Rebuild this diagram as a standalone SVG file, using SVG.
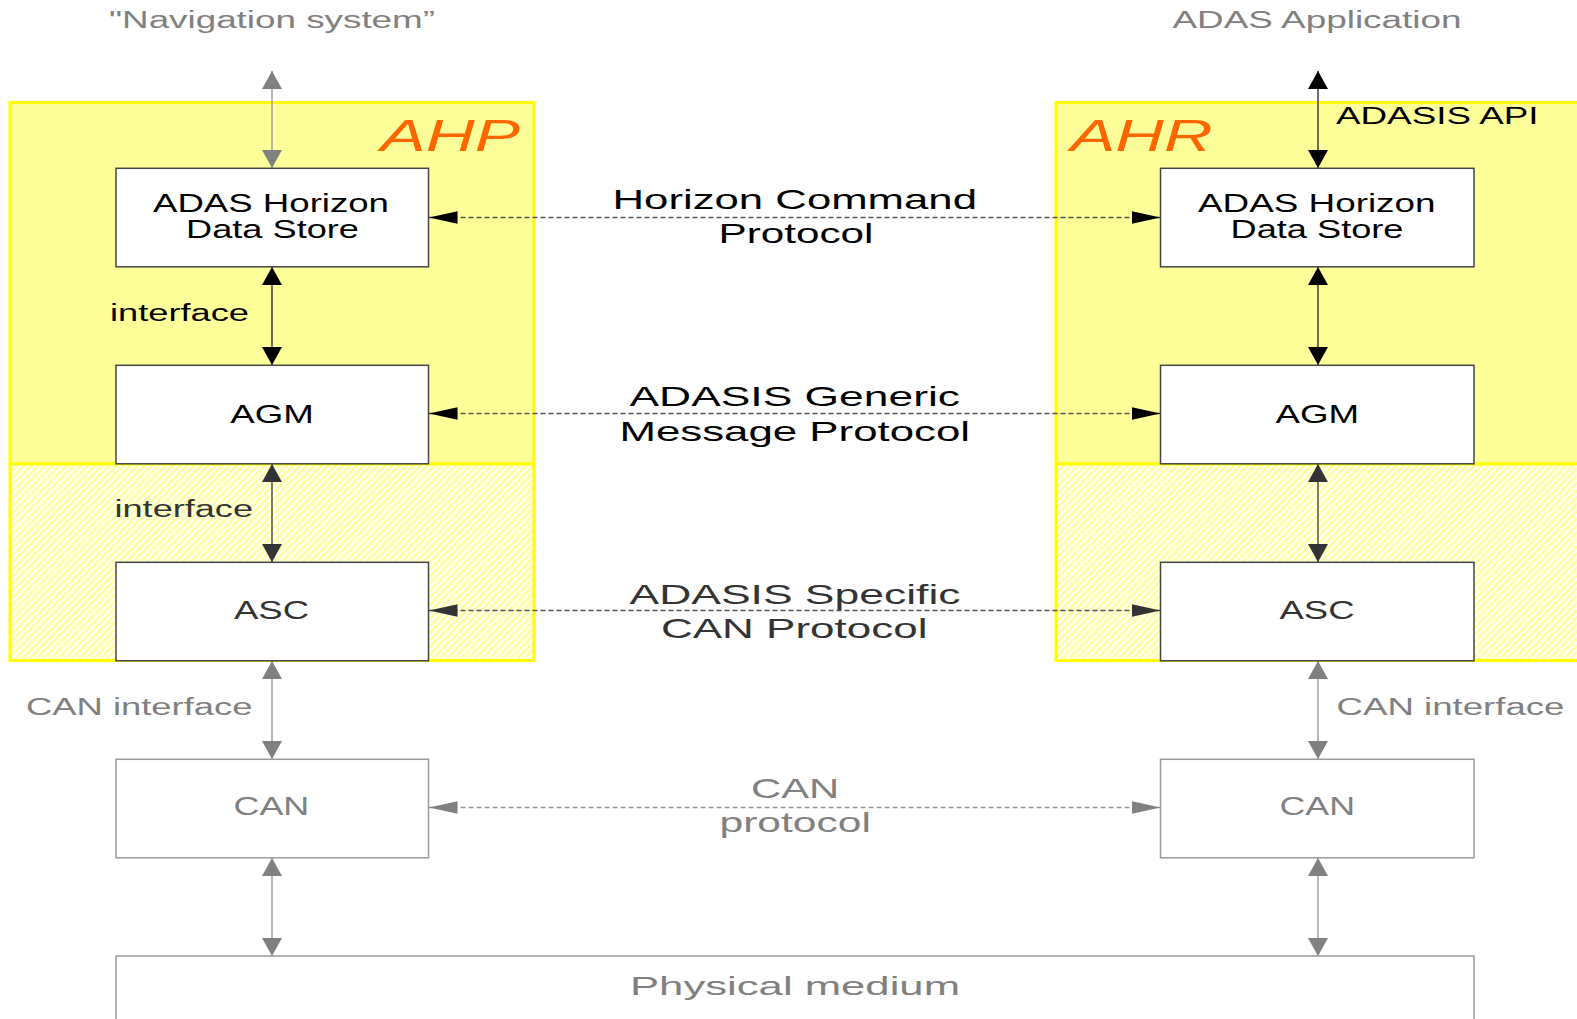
<svg xmlns="http://www.w3.org/2000/svg" width="1577" height="1019" viewBox="0 0 1577 1019">
  <defs>
    <style>
      text { font-family: "Liberation Sans", Arial, sans-serif; }
      .blk { fill: #000000; }
      .drk { fill: #333333; }
      .gry { fill: #808080; }
      .lbl { font-size: 25.5px; }
      .proto { font-size: 28px; }
      .side { font-size: 23.5px; }
      .title { font-size: 44px; font-style: italic; fill: #ff6600; }
      .frame { fill: #ffff99; stroke: #ffff00; stroke-width: 3; }
      .hatch { fill: url(#hatch); stroke: #ffff00; stroke-width: 3; }
      .box { fill: #ffffff; stroke: #444444; stroke-width: 1.5; }
      .gbox { fill: #ffffff; stroke: #9a9a9a; stroke-width: 1.5; }
      .vk { stroke: #333333; stroke-width: 1.4; fill: none; marker-start: url(#vK); marker-end: url(#vK); }
      .vd { stroke: #444444; stroke-width: 1.4; fill: none; marker-start: url(#vD); marker-end: url(#vD); }
      .vg { stroke: #999999; stroke-width: 1.4; fill: none; marker-start: url(#vG); marker-end: url(#vG); }
      .hk { stroke: #555555; stroke-width: 1.3; stroke-dasharray: 5 3; fill: none; marker-start: url(#hK); marker-end: url(#hK); }
      .hd { stroke: #555555; stroke-width: 1.3; stroke-dasharray: 5 3; fill: none; marker-start: url(#hD); marker-end: url(#hD); }
      .hg { stroke: #999999; stroke-width: 1.3; stroke-dasharray: 5 3; fill: none; marker-start: url(#hG); marker-end: url(#hG); }
    </style>
    <pattern id="hatch" patternUnits="userSpaceOnUse" width="5" height="5" patternTransform="rotate(45)">
      <rect width="5" height="5" fill="#fffff2"/>
      <line x1="1.5" y1="0" x2="1.5" y2="5" stroke="#ffff8c" stroke-width="2"/>
    </pattern>
    <!-- vertical arrowheads: 18 long, 20 wide -->
    <marker id="vK" viewBox="0 0 18 20" markerUnits="userSpaceOnUse" markerWidth="18" markerHeight="20" refX="18" refY="10" orient="auto-start-reverse">
      <path d="M0,0 L18,10 L0,20 z" fill="#000000"/>
    </marker>
    <marker id="vD" viewBox="0 0 18 20" markerUnits="userSpaceOnUse" markerWidth="18" markerHeight="20" refX="18" refY="10" orient="auto-start-reverse">
      <path d="M0,0 L18,10 L0,20 z" fill="#333333"/>
    </marker>
    <marker id="vG" viewBox="0 0 18 20" markerUnits="userSpaceOnUse" markerWidth="18" markerHeight="20" refX="18" refY="10" orient="auto-start-reverse">
      <path d="M0,0 L18,10 L0,20 z" fill="#808080"/>
    </marker>
    <!-- horizontal arrowheads: 29 long, 12.5 wide -->
    <marker id="hK" viewBox="0 0 29 12.5" markerUnits="userSpaceOnUse" markerWidth="29" markerHeight="12.5" refX="29" refY="6.25" orient="auto-start-reverse">
      <path d="M0,0 L29,6.25 L0,12.5 z" fill="#000000"/>
    </marker>
    <marker id="hD" viewBox="0 0 29 12.5" markerUnits="userSpaceOnUse" markerWidth="29" markerHeight="12.5" refX="29" refY="6.25" orient="auto-start-reverse">
      <path d="M0,0 L29,6.25 L0,12.5 z" fill="#333333"/>
    </marker>
    <marker id="hG" viewBox="0 0 29 12.5" markerUnits="userSpaceOnUse" markerWidth="29" markerHeight="12.5" refX="29" refY="6.25" orient="auto-start-reverse">
      <path d="M0,0 L29,6.25 L0,12.5 z" fill="#808080"/>
    </marker>
  </defs>

  <rect width="1577" height="1019" fill="#ffffff"/>

  <!-- provider / reconstructor frames -->
  <g id="frame-ahp">
    <rect class="frame" x="10" y="102.5" width="524" height="361.5"/>
    <rect class="hatch" x="10" y="464" width="524" height="196.5"/>
    <text class="title" x="380.5" y="150.5" textLength="139.5" lengthAdjust="spacingAndGlyphs">AHP</text>
  </g>
  <g id="frame-ahr">
    <rect class="frame" x="1056" y="102.5" width="530" height="361.5"/>
    <rect class="hatch" x="1056" y="464" width="530" height="196.5"/>
    <text class="title" x="1070.5" y="150.5" textLength="142" lengthAdjust="spacingAndGlyphs">AHR</text>
  </g>

  <!-- top labels -->
  <g id="label-nav">
    <text class="gry side" x="109" y="27.5" font-size="24" textLength="326" lengthAdjust="spacingAndGlyphs">"Navigation system”</text>
  </g>
  <g id="label-app">
    <text class="gry side" x="1172.5" y="27.5" font-size="24" textLength="289" lengthAdjust="spacingAndGlyphs">ADAS Application</text>
  </g>

  <!-- connectors -->
  <g id="connectors">
    <line class="vg" x1="272" y1="71" x2="272" y2="168"/>
    <line class="vk" x1="272" y1="267" x2="272" y2="365"/>
    <line class="vd" x1="272" y1="464" x2="272" y2="562"/>
    <line class="vg" x1="272" y1="661" x2="272" y2="759"/>
    <line class="vg" x1="272" y1="858" x2="272" y2="956"/>

    <line class="vk" x1="1318" y1="71" x2="1318" y2="168"/>
    <line class="vk" x1="1318" y1="267" x2="1318" y2="365"/>
    <line class="vd" x1="1318" y1="464" x2="1318" y2="562"/>
    <line class="vg" x1="1318" y1="661" x2="1318" y2="759"/>
    <line class="vg" x1="1318" y1="858" x2="1318" y2="956"/>

    <line class="hk" x1="428.5" y1="217.5" x2="1160.5" y2="217.5"/>
    <line class="hk" x1="428.5" y1="413.5" x2="1160.5" y2="413.5"/>
    <line class="hd" x1="428.5" y1="610.5" x2="1160.5" y2="610.5"/>
    <line class="hg" x1="428.5" y1="807.5" x2="1160.5" y2="807.5"/>

    <text class="blk side" x="110" y="321" font-size="23" textLength="139" lengthAdjust="spacingAndGlyphs">interface</text>
    <text class="drk side" x="114.5" y="517" font-size="23" textLength="138.5" lengthAdjust="spacingAndGlyphs">interface</text>
    <text class="gry side" x="26" y="715" textLength="226.5" lengthAdjust="spacingAndGlyphs">CAN interface</text>
    <text class="gry side" x="1336.5" y="715" textLength="228" lengthAdjust="spacingAndGlyphs">CAN interface</text>
    <text class="blk side" x="1336" y="124" textLength="202.5" lengthAdjust="spacingAndGlyphs">ADASIS API</text>

    <text class="blk proto" x="612.5" y="209" textLength="364.5" lengthAdjust="spacingAndGlyphs">Horizon Command</text>
    <text class="blk proto" x="718.5" y="243.3" textLength="155" lengthAdjust="spacingAndGlyphs">Protocol</text>
    <text class="blk proto" x="629.5" y="406" textLength="330.5" lengthAdjust="spacingAndGlyphs">ADASIS Generic</text>
    <text class="blk proto" x="619.5" y="440.5" textLength="350.5" lengthAdjust="spacingAndGlyphs">Message Protocol</text>
    <text class="drk proto" x="629.5" y="604" textLength="331" lengthAdjust="spacingAndGlyphs">ADASIS Specific</text>
    <text class="drk proto" x="661" y="638" textLength="266.5" lengthAdjust="spacingAndGlyphs">CAN Protocol</text>
    <text class="gry proto" x="751" y="798.3" font-size="25" textLength="88.3" lengthAdjust="spacingAndGlyphs">CAN</text>
    <text class="gry proto" x="719.5" y="831.5" font-size="25" textLength="151.5" lengthAdjust="spacingAndGlyphs">protocol</text>
  </g>

  <!-- AHP stack -->
  <g id="ahp-store">
    <rect class="box" x="116" y="168.3" width="312.5" height="98.5"/>
    <text class="blk lbl" x="153" y="211.7" textLength="236" lengthAdjust="spacingAndGlyphs">ADAS Horizon</text>
    <text class="blk lbl" x="186" y="238.3" textLength="173" lengthAdjust="spacingAndGlyphs">Data Store</text>
  </g>
  <g id="ahp-agm">
    <rect class="box" x="116" y="365.3" width="312.5" height="98.5"/>
    <text class="blk lbl" x="230.3" y="423" textLength="83.5" lengthAdjust="spacingAndGlyphs">AGM</text>
  </g>
  <g id="ahp-asc">
    <rect class="box" x="116" y="562.3" width="312.5" height="98.5"/>
    <text class="drk lbl" x="234" y="619" textLength="75" lengthAdjust="spacingAndGlyphs">ASC</text>
  </g>
  <g id="ahp-can">
    <rect class="gbox" x="116" y="759.3" width="312.5" height="98.5"/>
    <text class="gry lbl" x="233.5" y="815" font-size="24" textLength="75.7" lengthAdjust="spacingAndGlyphs">CAN</text>
  </g>

  <!-- AHR stack -->
  <g id="ahr-store">
    <rect class="box" x="1160.5" y="168.3" width="313.5" height="98.5"/>
    <text class="blk lbl" x="1198" y="211.7" textLength="237.5" lengthAdjust="spacingAndGlyphs">ADAS Horizon</text>
    <text class="blk lbl" x="1230.5" y="238.3" textLength="173" lengthAdjust="spacingAndGlyphs">Data Store</text>
  </g>
  <g id="ahr-agm">
    <rect class="box" x="1160.5" y="365.3" width="313.5" height="98.5"/>
    <text class="blk lbl" x="1275.5" y="423" textLength="83.5" lengthAdjust="spacingAndGlyphs">AGM</text>
  </g>
  <g id="ahr-asc">
    <rect class="box" x="1160.5" y="562.3" width="313.5" height="98.5"/>
    <text class="drk lbl" x="1279.5" y="619" textLength="75" lengthAdjust="spacingAndGlyphs">ASC</text>
  </g>
  <g id="ahr-can">
    <rect class="gbox" x="1160.5" y="759.3" width="313.5" height="98.5"/>
    <text class="gry lbl" x="1279.5" y="815" font-size="24" textLength="75.5" lengthAdjust="spacingAndGlyphs">CAN</text>
  </g>

  <!-- shared physical layer -->
  <g id="physical">
    <rect class="gbox" x="116" y="956" width="1358" height="80"/>
    <text class="gry lbl" x="630" y="995" textLength="330" lengthAdjust="spacingAndGlyphs">Physical medium</text>
  </g>
</svg>
